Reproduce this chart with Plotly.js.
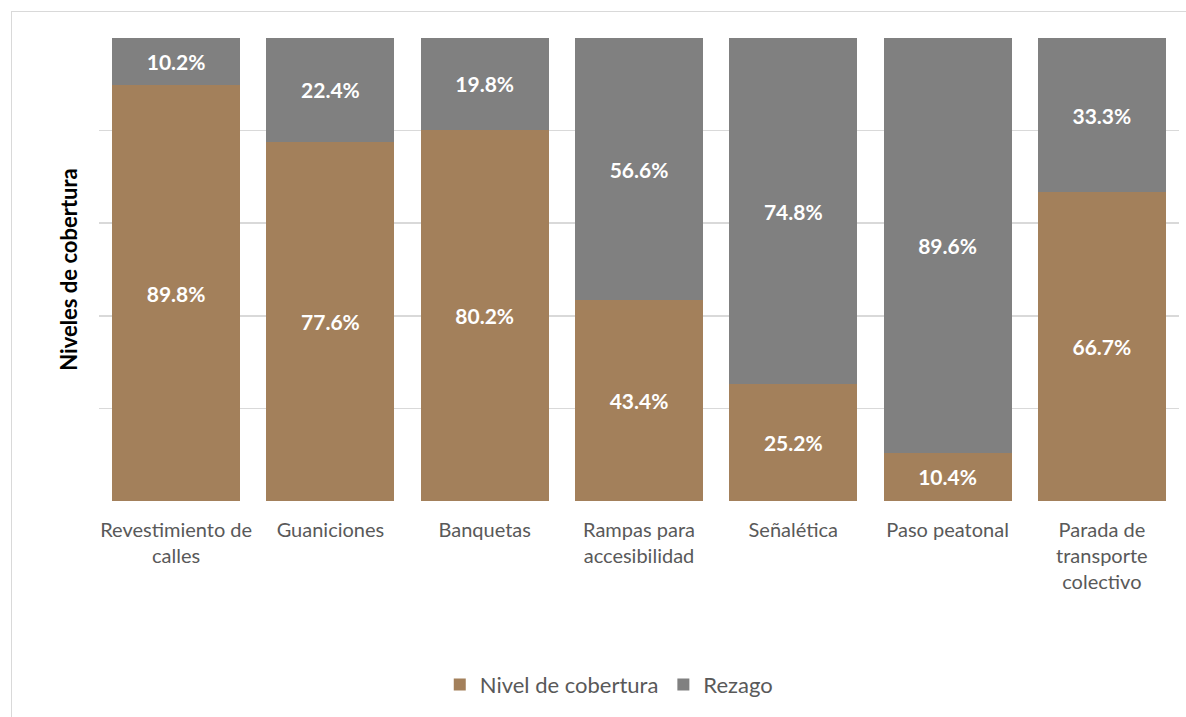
<!DOCTYPE html>
<html>
<head>
<meta charset="utf-8">
<script src="https://cdn.plot.ly/plotly-3.0.1.min.js"></script>
<style>
  html, body { margin: 0; padding: 0; background: #fff; }
  #frame { position: absolute; left: 11px; top: 11px; width: 1200px; height: 800px; border: 1.5px solid #d9d9d9; box-sizing: border-box; }
  #chart { position: absolute; left: 0; top: 0; width: 1186px; height: 717px; }
</style>
</head>
<body>
<div id="frame"></div>
<div id="chart"></div>
<script>
const categories = [
  "Revestimiento de<br>calles",
  "Guaniciones",
  "Banquetas",
  "Rampas para<br>accesibilidad",
  "Señalética",
  "Paso peatonal",
  "Parada de<br>transporte<br>colectivo"
];
const nivelCobertura = [89.8, 77.6, 80.2, 43.4, 25.2, 10.4, 66.7];
const rezago = [10.2, 22.4, 19.8, 56.6, 74.8, 89.6, 33.3];
const seriesNames = ["Nivel de cobertura", "Rezago"];

const FONT = "Lato, 'Open Sans', sans-serif";
const labelFont = { family: FONT, size: 21, color: "#ffffff", weight: "bold" };

const traces = [
  {
    type: "bar", name: seriesNames[0], x: categories, y: nivelCobertura,
    marker: { color: "#A3805B" },
    texttemplate: "<b>%{y:.1f}%</b>", textposition: "inside", insidetextanchor: "middle",
    textangle: 0, constraintext: "none", textfont: labelFont, hoverinfo: "skip"
  },
  {
    type: "bar", name: seriesNames[1], x: categories, y: rezago,
    marker: { color: "#808080" },
    texttemplate: "<b>%{y:.1f}%</b>", textposition: "inside", insidetextanchor: "middle",
    textangle: 0, constraintext: "none", textfont: labelFont, hoverinfo: "skip"
  }
];

const layout = {
  width: 1186, height: 717,
  margin: { l: 99, r: 7, t: 38, b: 216, pad: 0 },
  paper_bgcolor: "rgba(0,0,0,0)", plot_bgcolor: "rgba(0,0,0,0)",
  barmode: "stack", bargap: 0.17,
  font: { family: FONT, color: "#595959" },
  xaxis: {
    tickfont: { family: FONT, size: 20, color: "#595959" },
    showgrid: false, zeroline: false, showline: false, ticks: "",
    ticklabelstandoff: 15, fixedrange: true
  },
  yaxis: {
    range: [0, 100], showticklabels: false, ticks: "",
    dtick: 20, tick0: 0, showgrid: true, gridcolor: "#d9d9d9", gridwidth: 1.5,
    zeroline: false, showline: false, fixedrange: true,
    title: { text: "<b>Niveles de cobertura</b>", font: { family: FONT, size: 22, color: "#000000" }, standoff: 14 }
  },
  showlegend: true,
  legend: {
    orientation: "h", x: 0.472, xanchor: "center", y: -0.397, yanchor: "middle",
    font: { family: FONT, size: 22, color: "#595959" }, traceorder: "normal",
    itemwidth: 30
  }
};

Plotly.newPlot("chart", traces, layout, { displayModeBar: false, staticPlot: true });
</script>
</body>
</html>
